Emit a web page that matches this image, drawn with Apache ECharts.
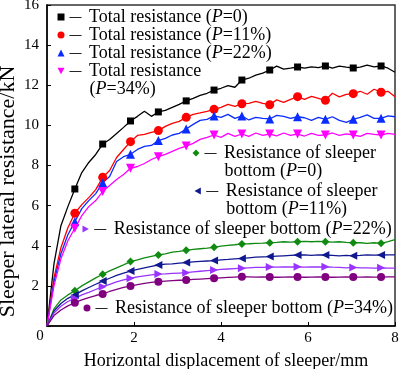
<!DOCTYPE html>
<html><head><meta charset="utf-8">
<script src="https://cdn.jsdelivr.net/npm/echarts@6/dist/echarts.min.js"></script>
<style>html,body{margin:0;padding:0;background:#fff}#c{width:400px;height:369px}</style>
</head><body><div id="c"></div>
<script>
// ---- data ----
const xValues = [0,0.16,0.32,0.48,0.64,0.80,0.96,1.12,1.28,1.44,1.60,1.76,1.92,2.08,2.24,2.40,2.56,2.72,2.88,3.04,3.20,3.36,3.52,3.68,3.84,4.00,4.16,4.32,4.48,4.64,4.80,4.96,5.12,5.28,5.44,5.60,5.76,5.92,6.08,6.24,6.40,6.56,6.72,6.88,7.04,7.20,7.36,7.52,7.68,7.84,8.00];

const totalP0  = [0,3.1,5.0,5.95,6.83,7.65,8.15,8.55,9.07,9.3,9.6,9.9,10.22,10.45,10.7,10.45,10.67,10.75,10.9,11.05,11.22,11.35,11.5,11.6,11.76,11.85,11.98,11.9,12.26,12.35,12.5,12.6,12.76,12.95,12.8,12.85,12.91,12.85,12.92,12.88,12.96,12.85,12.95,12.9,12.86,12.9,13.0,12.92,12.96,12.85,12.65];
const totalP11 = [0,2.4,3.9,4.9,5.62,6.05,6.4,6.8,7.41,7.75,8.4,8.8,9.19,9.5,9.55,9.65,9.74,9.95,10.1,10.2,10.4,10.55,10.62,10.7,10.8,10.9,11.05,10.95,11.08,11.1,11.2,11.1,11.03,11.27,11.15,11.3,11.43,11.3,11.45,11.35,11.25,11.6,11.42,11.55,11.58,11.7,11.55,11.8,11.65,11.7,11.43];
const totalP22 = [0,2.2,3.6,4.55,5.2,5.85,6.25,6.6,7.14,7.45,8.2,8.44,8.56,8.8,8.95,9.0,9.24,9.35,9.52,9.6,9.82,10.05,10.25,10.3,10.47,10.4,10.55,10.35,10.47,10.27,10.4,10.35,10.32,10.5,10.45,10.35,10.43,10.38,10.25,10.4,10.3,10.43,10.25,10.15,10.3,10.4,10.52,10.35,10.35,10.47,10.43];
const totalP34 = [0,2.0,3.35,4.25,4.87,5.5,5.95,6.25,6.7,7.0,7.3,7.55,7.86,7.95,8.1,8.3,8.44,8.55,8.7,8.85,8.97,9.1,9.3,9.4,9.52,9.4,9.6,9.45,9.57,9.45,9.62,9.5,9.57,9.48,9.62,9.5,9.57,9.47,9.6,9.5,9.52,9.62,9.5,9.58,9.52,9.45,9.6,9.55,9.52,9.6,9.55];
const bottomP0  = [0,0.85,1.3,1.55,1.76,2.0,2.2,2.4,2.58,2.75,2.9,3.05,3.21,3.3,3.4,3.47,3.54,3.6,3.68,3.72,3.77,3.82,3.85,3.88,3.92,3.98,4.02,4.05,4.09,4.1,4.12,4.13,4.15,4.17,4.2,4.18,4.2,4.22,4.2,4.22,4.2,4.18,4.2,4.17,4.15,4.15,4.12,4.15,4.12,4.2,4.3];
const bottomP11 = [0,0.75,1.12,1.38,1.55,1.75,1.92,2.08,2.24,2.38,2.52,2.63,2.74,2.82,2.9,2.97,3.04,3.08,3.1,3.13,3.16,3.2,3.22,3.24,3.26,3.3,3.32,3.35,3.37,3.4,3.43,3.45,3.46,3.48,3.5,3.52,3.54,3.55,3.52,3.55,3.54,3.52,3.5,3.52,3.5,3.52,3.55,3.53,3.54,3.55,3.55];
const bottomP22 = [0,0.65,0.98,1.22,1.38,1.55,1.68,1.82,1.96,2.08,2.2,2.3,2.38,2.45,2.5,2.55,2.59,2.6,2.62,2.64,2.66,2.7,2.73,2.76,2.79,2.82,2.84,2.86,2.88,2.9,2.92,2.92,2.94,2.93,2.95,2.94,2.95,2.93,2.95,2.94,2.95,2.93,2.92,2.9,2.92,2.9,2.9,2.88,2.9,2.88,2.88];
const bottomP34 = [0,0.52,0.8,1.0,1.16,1.3,1.42,1.52,1.6,1.72,1.83,1.92,1.99,2.06,2.12,2.17,2.21,2.24,2.26,2.28,2.29,2.32,2.34,2.36,2.38,2.4,2.42,2.44,2.46,2.45,2.44,2.45,2.44,2.43,2.44,2.45,2.44,2.43,2.44,2.45,2.44,2.43,2.44,2.45,2.44,2.44,2.45,2.44,2.44,2.45,2.45];

const seriesNames = ['Total resistance (P=0)','Total resistance (P=11%)','Total resistance (P=22%)','Total resistance (P=34%)',
  'Resistance of sleeper bottom (P=0)','Resistance of sleeper bottom (P=11%)','Resistance of sleeper bottom (P=22%)','Resistance of sleeper bottom (P=34%)'];
const legendLabels = ['Total resistance (P=0)','Total resistance (P=11%)','Total resistance (P=22%)','Total resistance\n(P=34%)',
  'Resistance of sleeper\nbottom (P=0)','Resistance of sleeper\nbottom (P=11%)','Resistance of sleeper bottom (P=22%)','Resistance of sleeper bottom (P=34%)'];
const xAxisName = 'Horizontal displacement of sleeper/mm';
const yAxisName = 'Sleeper lateral resistance/kN';

// ---- styling ----
const values = [totalP0,totalP11,totalP22,totalP34,bottomP0,bottomP11,bottomP22,bottomP34];
const FONT = 'Liberation Serif';
const DOWN = 'path://M0,0L10,0L5,9Z', LEFT = 'path://M9,0L9,10L0,5Z', RIGHT = 'path://M0,0L9,5L0,10Z';
const styles = [
  {color:'#000000', sym:'rect', size:7, lg:[57.5,8]},
  {color:'#ff0000', sym:'circle', size:9, lg:[57.5,26]},
  {color:'#0a2cff', sym:'triangle', size:9, lg:[57.5,44]},
  {color:'#ff00ff', sym:DOWN, size:9, lg:[57.5,62]},
  {color:'#108a10', sym:'diamond', size:8, lg:[192.5,144]},
  {color:'#101890', sym:LEFT, size:8, lg:[194.5,182]},
  {color:'#9933ff', sym:RIGHT, size:8, lg:[82.5,220]},
  {color:'#800080', sym:'circle', size:8, lg:[83.5,299]}
];
function isMark(i){ return i>0 && i%4===0 && i<50; }
function richify(label){
  return label.split('\n').map((ln,k)=>{
    const pre = k===0 ? '{d|—}' : '{sp| }';
    const lead = k===0 ? ' ' : '';
    const parts = ln.split('P=');
    if (parts.length===2) return pre + '{t|'+lead+parts[0]+'}{i|P}{t|='+parts[1]+'}';
    return pre + '{t|'+lead+ln+'}';
  }).join('\n');
}
const richStyles = {
  t:{fontFamily:FONT,fontSize:18,lineHeight:18,color:'#000'},
  i:{fontFamily:FONT,fontSize:18,lineHeight:18,color:'#000',fontStyle:'italic'},
  d:{fontFamily:FONT,fontSize:12,lineHeight:18,color:'#000',fontWeight:'bold',padding:[0,3,0,0]},
  sp:{fontFamily:FONT,fontSize:18,lineHeight:18,width:20}
};

const legends = styles.map((s,i)=>({
  left:s.lg[0], top:s.lg[1], padding:0, orient:'vertical', selectedMode:false,
  itemWidth:7, itemHeight:7,
  data:[{name:seriesNames[i], icon:s.sym, itemStyle:{color:s.color, borderWidth:0}}],
  formatter: ()=>richify(legendLabels[i]),
  textStyle:{rich:richStyles, padding: legendLabels[i].indexOf('\n')>=0 ? [18,0,0,0] : 0}
}));

const chart = echarts.init(document.getElementById('c'), null, {renderer:'canvas'});
chart.setOption({
  animation:false,
  backgroundColor:'#fff',
  grid:{left:47,right:5,top:5,bottom:43,show:true,borderColor:'#333',borderWidth:1.5,outerBoundsMode:'none'},
  legend: legends,
  xAxis:{type:'value',min:0,max:8,interval:2,
    name:xAxisName,nameLocation:'middle',nameGap:26,nameMoveOverlap:false,
    nameTextStyle:{fontFamily:FONT,fontSize:18,color:'#000',padding:[0,0,0,10]},
    axisLine:{show:true,lineStyle:{color:'#000',width:1.5}},
    axisTick:{show:true,inside:true,length:4,lineStyle:{color:'#000'}},
    splitLine:{show:false},
    axisLabel:{margin:4,align:'center',alignMinLabel:'center',alignMaxLabel:'center',
      formatter:v=> v===0 ? '{z|0}' : '{n|'+v+'}',
      rich:{n:{fontFamily:FONT,fontSize:15,lineHeight:16,color:'#000'},
            z:{fontFamily:FONT,fontSize:15,lineHeight:6,color:'#000',padding:[7,14,0,0]}}}
  },
  yAxis:{type:'value',min:0,max:16,interval:2,
    name:yAxisName,nameLocation:'middle',nameGap:31,nameMoveOverlap:false,
    nameTextStyle:{fontFamily:FONT,fontSize:22,lineHeight:16,color:'#000',padding:[0,52,0,0]},
    axisLine:{show:true,lineStyle:{color:'#000',width:1.5}},
    axisTick:{show:true,inside:true,length:4,lineStyle:{color:'#000'}},
    splitLine:{show:false},
    axisLabel:{margin:8,align:'right',alignMinLabel:'right',alignMaxLabel:'right',
      verticalAlignMinLabel:'middle',verticalAlignMaxLabel:'middle',
      fontFamily:FONT,fontSize:15,color:'#000',formatter:v=> v===0 ? '' : String(v)}
  },
  series: styles.map((s,i)=>({
    name:seriesNames[i], type:'line', silent:true,
    data:xValues.map((x,k)=>[x,values[i][k]]),
    symbol:(v,p)=> isMark(p.dataIndex) ? s.sym : 'none',
    symbolSize:s.size, showAllSymbol:true,
    lineStyle:{color:s.color,width:1.3}, itemStyle:{color:s.color},
    emphasis:{disabled:true}
  }))
});
</script></body></html>
